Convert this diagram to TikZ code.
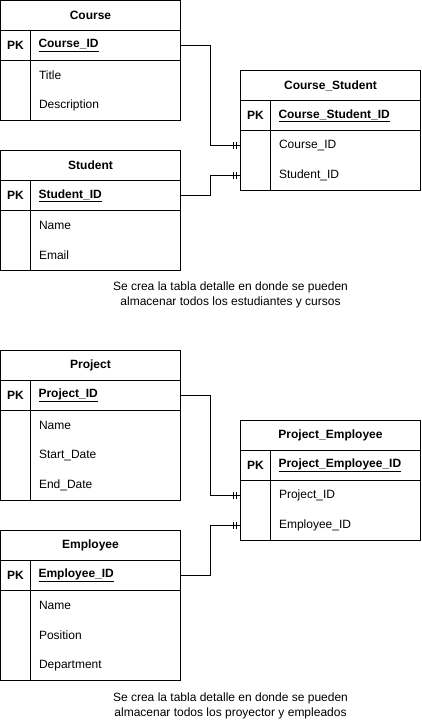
\documentclass[tikz,border=0pt]{standalone}
\usepackage{fontspec}
\setmainfont{Liberation Sans}
\usetikzlibrary{positioning, decorations.markings}

\begin{document}
\begin{tikzpicture}[x=1pt, y=-1pt, line width=1pt,
  font=\fontsize{12}{15}\selectfont,
  hdr/.style={draw, minimum width=180pt, minimum height=30pt, inner sep=0pt,
    outer sep=0pt, font=\fontsize{12}{15}\selectfont\bfseries},
  keycell/.style={draw, minimum width=30pt, minimum height=30pt, inner sep=0pt,
    outer sep=0pt, font=\fontsize{12}{15}\selectfont\bfseries},
  pkcell/.style={draw, minimum height=30pt, text width=134pt, inner xsep=8pt,
    inner ysep=0pt, outer sep=0pt, align=left,
    font=\fontsize{12}{15}\selectfont\bfseries},
  attr/.style={anchor=west, inner sep=0pt},
  note/.style={align=center, inner sep=0pt},
  mandone/.style={postaction={decorate}, decoration={markings,
    mark=at position -7.5pt with {\draw (0,-3.5pt) -- (0,3.5pt);},
    mark=at position -4.5pt with {\draw (0,-3.5pt) -- (0,3.5pt);}}}]
\useasboundingbox (0,0) rectangle (421,721);
% Course table
\node[hdr] (course) at (90.5,15.5) {Course};
\node[keycell, below right=0pt of course.south west] (coursek) {PK};
\node[pkcell, right=0pt of coursek] (coursepk) {\underline{Course\_ID}};
\draw (coursek.south west) rectangle ++(180,60);
\draw (coursek.south east) -- ++(0,60);
\node[attr] (coursetitle) at (38.5,75.5) {Title};
\node[attr] (coursedesc) at (38.5,105.5) {Description};
% Student table
\node[hdr] (student) at (90.5,165.5) {Student};
\node[keycell, below right=0pt of student.south west] (studentk) {PK};
\node[pkcell, right=0pt of studentk] (studentpk) {\underline{Student\_ID}};
\draw (studentk.south west) rectangle ++(180,60);
\draw (studentk.south east) -- ++(0,60);
\node[attr] (studentname) at (38.5,225.5) {Name};
\node[attr] (studentemail) at (38.5,255.5) {Email};
% Course_Student detail table
\node[hdr] (cs) at (330.5,85.5) {Course\_Student};
\node[keycell, below right=0pt of cs.south west] (csk) {PK};
\node[pkcell, right=0pt of csk] (cspk) {\underline{Course\_Student\_ID}};
\draw (csk.south west) rectangle ++(180,60);
\draw (csk.south east) -- ++(0,60);
\node[attr] (cscourse) at (278.5,145.5) {Course\_ID};
\node[attr] (csstudent) at (278.5,175.5) {Student\_ID};
% Relations
\draw[mandone] (coursepk.east) -- ++(30,0) |- (cscourse.west -| cs.west);
\draw[mandone] (studentpk.east) -- ++(30,0) |- (csstudent.west -| cs.west);
\node[note] (note1) at (230.5,294.5)
  {Se crea la tabla detalle en donde se pueden\\almacenar todos los estudiantes y cursos};
% Project table
\node[hdr] (project) at (90.5,365.5) {Project};
\node[keycell, below right=0pt of project.south west] (projectk) {PK};
\node[pkcell, right=0pt of projectk] (projectpk) {\underline{Project\_ID}};
\draw (projectk.south west) rectangle ++(180,90);
\draw (projectk.south east) -- ++(0,90);
\node[attr] (projectname) at (38.5,425.5) {Name};
\node[attr] (projectstart) at (38.5,455.5) {Start\_Date};
\node[attr] (projectend) at (38.5,485.5) {End\_Date};
% Employee table
\node[hdr] (employee) at (90.5,545.5) {Employee};
\node[keycell, below right=0pt of employee.south west] (employeek) {PK};
\node[pkcell, right=0pt of employeek] (employeepk) {\underline{Employee\_ID}};
\draw (employeek.south west) rectangle ++(180,90);
\draw (employeek.south east) -- ++(0,90);
\node[attr] (employeename) at (38.5,605.5) {Name};
\node[attr] (employeepos) at (38.5,635.5) {Position};
\node[attr] (employeedept) at (38.5,665.5) {Department};
% Project_Employee detail table
\node[hdr] (pe) at (330.5,435.5) {Project\_Employee};
\node[keycell, below right=0pt of pe.south west] (pek) {PK};
\node[pkcell, right=0pt of pek] (pepk) {\underline{Project\_Employee\_ID}};
\draw (pek.south west) rectangle ++(180,60);
\draw (pek.south east) -- ++(0,60);
\node[attr] (peproject) at (278.5,495.5) {Project\_ID};
\node[attr] (peemployee) at (278.5,525.5) {Employee\_ID};
% Relations
\draw[mandone] (projectpk.east) -- ++(30,0) |- (peproject.west -| pe.west);
\draw[mandone] (employeepk.east) -- ++(30,0) |- (peemployee.west -| pe.west);
\node[note] (note2) at (230.5,705.5)
  {Se crea la tabla detalle en donde se pueden\\almacenar todos los proyector y empleados};
\end{tikzpicture}
\end{document}
